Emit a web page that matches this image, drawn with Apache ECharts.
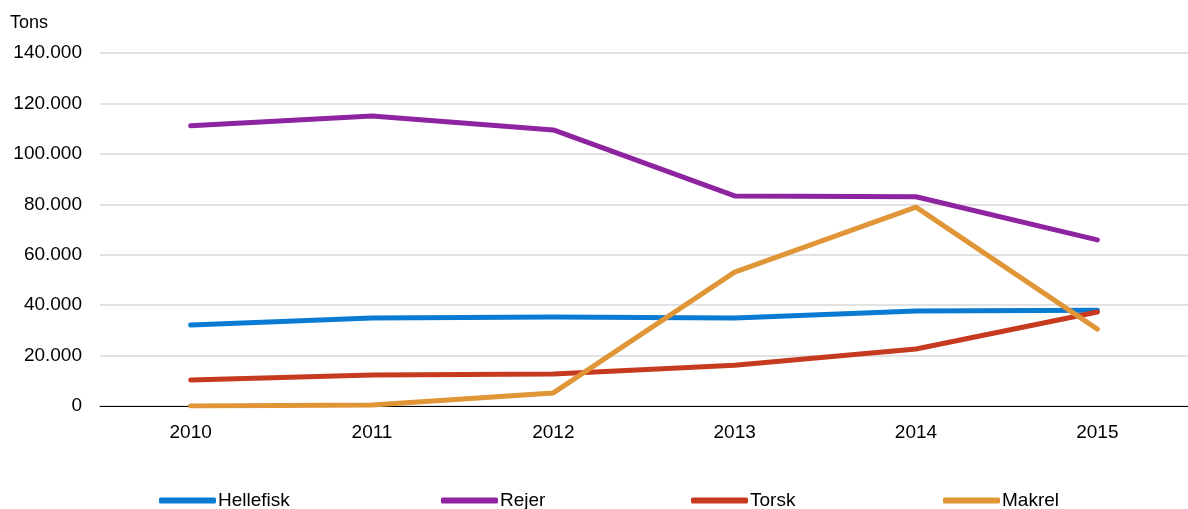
<!DOCTYPE html>
<html><head><meta charset="utf-8">
<script src="https://cdn.jsdelivr.net/npm/echarts@6/dist/echarts.min.js"></script>
<style>html,body{margin:0;padding:0;background:#fff}#c{width:1188px;height:509px}</style>
</head><body><div id="c"></div>
<script>
const categories = ['2010','2011','2012','2013','2014','2015'];
const hellefisk = [32100, 34900, 35300, 34900, 37700, 38000];
const rejer = [111100, 115000, 109500, 83300, 83000, 65900];
const torsk = [10300, 12300, 12700, 16200, 22600, 37300];
const makrel = [0, 400, 5200, 53100, 78900, 30500];
const seriesNames = ['Hellefisk','Rejer','Torsk','Makrel'];
const colors = ['#0a7bd2','#8e24a0','#c63b1f','#e09537'];
const values = [hellefisk, rejer, torsk, makrel];
const FONT = 'Liberation Sans';

const chart = echarts.init(document.getElementById('c'));
const legendLefts = [159, 441, 691, 943];
chart.setOption({
  animation: false,
  grid: {left: 100, right: -7, top: 53, bottom: 103},
  xAxis: {
    type: 'category', data: categories, boundaryGap: true,
    axisLine: {lineStyle: {color: '#000', width: 1}},
    axisTick: {inside: true, length: 5, lineStyle: {color: '#000'}},
    axisLabel: {color: '#000', fontFamily: FONT, fontSize: 19, margin: 17}
  },
  yAxis: {
    type: 'value', min: 0, max: 140000, interval: 20000,
    axisLine: {show: false}, axisTick: {show: false},
    splitLine: {lineStyle: {color: '#d9d9d9', width: 1.5}},
    axisLabel: {color: '#000', fontFamily: FONT, fontSize: 19, margin: 18,
      formatter: v => String(v).replace(/\B(?=(\d{3})+(?!\d))/g, '.')}
  },
  graphic: [{type: 'text', left: 10, top: 14, style: {text: 'Tons', fill: '#000', font: '18px "Liberation Sans"'}}],
  legend: seriesNames.map((n, i) => ({
    data: [n], left: legendLefts[i], top: 491, padding: 0, icon: 'roundRect',
    itemWidth: 57, itemHeight: 6, itemGap: 0,
    textStyle: {color: '#000', fontFamily: FONT, fontSize: 19, padding: [0,0,0,-3]}
  })),
  series: seriesNames.map((n, i) => ({
    name: n, type: 'line', data: values[i], symbol: 'none',
    lineStyle: {color: colors[i], width: 5, cap: 'round', join: 'round'},
    itemStyle: {color: colors[i]}
  }))
});
</script></body></html>
